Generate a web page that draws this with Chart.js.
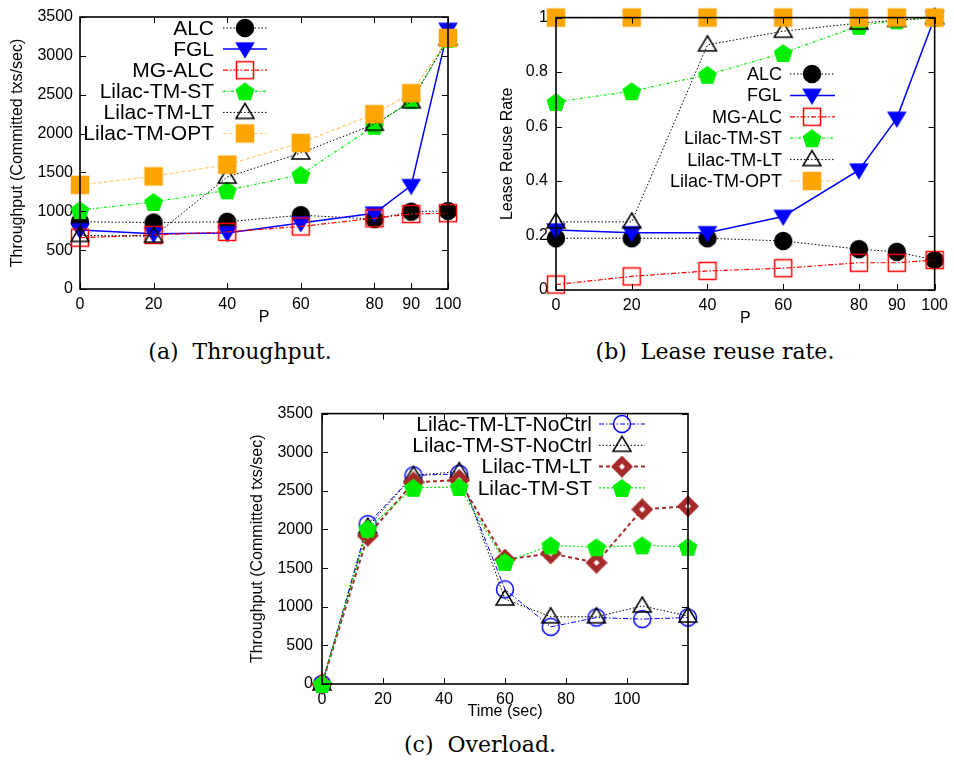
<!DOCTYPE html>
<html>
<head>
<meta charset="utf-8">
<script src="https://cdn.jsdelivr.net/npm/chart.js@4.4.0/dist/chart.umd.min.js"></script>
<style>
  body { margin: 0; background: #fff; width: 954px; height: 760px; position: relative; overflow: hidden; }
  canvas { position: absolute; }
  .cap { position: absolute; font-family: "DejaVu Serif", serif; font-size: 22px; line-height: 24px; color: #000; transform: translateX(-50%); white-space: pre; }
</style>
</head>
<body>
<canvas id="chartA" width="470" height="330" style="left:0;top:0"></canvas>
<canvas id="chartB" width="474" height="330" style="left:480px;top:0"></canvas>
<canvas id="chartC" width="470" height="330" style="left:240px;top:395px"></canvas>
<div class="cap" style="left:240px;top:340px">(a)  Throughput.</div>
<div class="cap" style="left:715px;top:340px">(b)  Lease reuse rate.</div>
<div class="cap" style="left:480px;top:733px">(c)  Overload.</div>
<script>
// x values and tick labels
const pValues = [0, 20, 40, 60, 80, 90, 100];
const pTicks = [0, 20, 40, 60, 80, 90, 100];
const timeValues = [0, 15, 30, 45, 60, 75, 90, 105, 120];
const timeTicks = [0, 20, 40, 60, 80, 100];

// (a) throughput, committed txs/sec
const tputALC = [865, 855, 865, 950, 900, 995, 1005];
const tputFGL = [760, 710, 720, 850, 975, 1330, 3340];
const tputMGALC = [660, 695, 735, 805, 910, 965, 975];
const tputST = [1015, 1120, 1270, 1470, 2100, 2430, 3220];
const tputLT = [690, 680, 1440, 1750, 2120, 2410, 3220];
const tputOPT = [1340, 1450, 1600, 1880, 2250, 2520, 3230];

// (b) lease reuse rate
const reuseALC = [0.19, 0.19, 0.19, 0.18, 0.15, 0.14, 0.11];
const reuseFGL = [0.22, 0.21, 0.21, 0.27, 0.44, 0.63, 1.0];
const reuseMGALC = [0.02, 0.05, 0.07, 0.08, 0.10, 0.10, 0.11];
const reuseST = [0.69, 0.73, 0.79, 0.87, 0.97, 0.99, 1.0];
const reuseLT = [0.25, 0.25, 0.90, 0.95, 0.98, 0.99, 1.0];
const reuseOPT = [1, 1, 1, 1, 1, 1, 1];

// (c) overload
const ovLTNoCtrl = [0, 2070, 2700, 2720, 1225, 740, 860, 840, 860];
const ovSTNoCtrl = [0, 2030, 2700, 2750, 1100, 870, 870, 1010, 880];
const ovLT = [0, 1920, 2610, 2640, 1610, 1690, 1570, 2260, 2300];
const ovST = [0, 2010, 2540, 2550, 1580, 1795, 1770, 1795, 1775];

const FONT = '"Liberation Sans", Arial, sans-serif';

// gnuplot-like point symbols drawn on small canvases
function marker(kind, color, filled) {
  const s = 22, m = s / 2;
  const c = document.createElement('canvas');
  c.width = c.height = s;
  const g = c.getContext('2d');
  g.strokeStyle = color;
  g.fillStyle = color;
  g.lineWidth = 1.5;
  g.beginPath();
  if (kind === 'circle') {
    g.arc(m, m, 8.5, 0, Math.PI * 2);
  } else if (kind === 'square') {
    g.rect(m - 8.5, m - 8.5, 17, 17);
  } else if (kind === 'tri') {
    g.moveTo(m, m - 9); g.lineTo(m + 9, m + 6); g.lineTo(m - 9, m + 6); g.closePath();
  } else if (kind === 'triDown') {
    g.moveTo(m, m + 8); g.lineTo(m + 8.5, m - 6); g.lineTo(m - 8.5, m - 6); g.closePath();
  } else if (kind === 'pent') {
    for (let i = 0; i < 5; i++) {
      const a = -Math.PI / 2 + i * 2 * Math.PI / 5;
      const px = m + 9 * Math.cos(a), py = m + 1 + 9 * Math.sin(a);
      i ? g.lineTo(px, py) : g.moveTo(px, py);
    }
    g.closePath();
  } else if (kind === 'diamond') {
    g.moveTo(m, m - 10); g.lineTo(m + 10, m); g.lineTo(m, m + 10); g.lineTo(m - 10, m); g.closePath();
  }
  if (filled) g.fill();
  g.stroke();
  if (kind === 'diamond') {
    g.fillStyle = '#fff';
    g.beginPath();
    g.moveTo(m, m - 3); g.lineTo(m + 3, m); g.lineTo(m, m + 3); g.lineTo(m - 3, m); g.closePath();
    g.fill();
  }
  return c;
}

function series(label, xs, ys, color, width, dash, sym, i, n) {
  return {
    label,
    data: xs.map((x, k) => ({ x, y: ys[k] })),
    borderColor: color,
    borderWidth: width,
    borderDash: dash,
    pointStyle: sym,
    pointRadius: 9,
    fill: false,
    tension: 0,
    clip: false,
    order: n - i
  };
}

// box with inward ticks on all four sides
const frame = {
  id: 'frame',
  afterDatasetsDraw(chart) {
    const { ctx, chartArea: a, scales: { x, y } } = chart;
    ctx.save();
    ctx.strokeStyle = '#000';
    ctx.lineWidth = 1;
    ctx.beginPath();
    x.ticks.forEach(t => {
      const px = Math.round(x.getPixelForValue(t.value)) + 0.5;
      ctx.moveTo(px, a.bottom); ctx.lineTo(px, a.bottom - 6);
      ctx.moveTo(px, a.top); ctx.lineTo(px, a.top + 6);
    });
    y.ticks.forEach(t => {
      const py = Math.round(y.getPixelForValue(t.value)) + 0.5;
      ctx.moveTo(a.left, py); ctx.lineTo(a.left + 6, py);
      ctx.moveTo(a.right, py); ctx.lineTo(a.right - 6, py);
    });
    ctx.stroke();
    ctx.lineWidth = 1.6;
    ctx.strokeRect(a.left, a.top, a.right - a.left, a.bottom - a.top);
    ctx.restore();
  }
};

// key: right aligned text, then line sample with symbol
const sideLegend = {
  id: 'sideLegend',
  afterDraw(chart, args, o) {
    const ctx = chart.ctx;
    ctx.save();
    ctx.font = o.size + 'px ' + FONT;
    ctx.textAlign = 'right';
    ctx.textBaseline = 'middle';
    ctx.fillStyle = '#000';
    chart.data.datasets.forEach((ds, i) => {
      const y = o.top + i * o.gap;
      ctx.fillText(ds.label, o.textRight, y + 1);
      ctx.save();
      ctx.strokeStyle = ds.borderColor;
      ctx.lineWidth = ds.borderWidth;
      ctx.setLineDash(ds.borderDash || []);
      ctx.beginPath();
      ctx.moveTo(o.lineFrom, y);
      ctx.lineTo(o.lineTo, y);
      ctx.stroke();
      ctx.restore();
      const img = ds.pointStyle;
      ctx.drawImage(img, o.markX - img.width / 2, y - img.height / 2);
    });
    ctx.restore();
  }
};

function makeChart(id, datasets, cfg) {
  const tickFont = { family: FONT, size: 16 };
  return new Chart(document.getElementById(id), {
    type: 'line',
    data: { datasets },
    options: {
      responsive: false,
      animation: false,
      events: [],
      layout: { padding: { left: 0, right: cfg.padRight, top: cfg.padTop, bottom: 0 } },
      plugins: { legend: { display: false }, tooltip: { enabled: false }, sideLegend: cfg.legend },
      scales: {
        x: {
          type: 'linear', min: cfg.xMin, max: cfg.xMax,
          afterBuildTicks: s => { s.ticks = cfg.xTicks.map(v => ({ value: v })); },
          afterFit: s => { s.height = cfg.xHeight; },
          grid: { display: false, drawTicks: false },
          border: { display: false },
          ticks: { font: tickFont, color: '#000', padding: 6, maxRotation: 0, autoSkip: false },
          title: { display: true, text: cfg.xTitle, font: tickFont, color: '#000', padding: { top: 0, bottom: cfg.xTitlePad } }
        },
        y: {
          min: cfg.yMin, max: cfg.yMax,
          ticks: { stepSize: cfg.yStep, font: tickFont, color: '#000', padding: cfg.yTickPad, callback: cfg.yFormat },
          afterFit: s => { s.width = cfg.yWidth; },
          grid: { display: false, drawTicks: false },
          border: { display: false },
          title: { display: true, text: cfg.yTitle, font: tickFont, color: '#000', padding: { top: cfg.yTitlePad, bottom: 0 } }
        }
      }
    },
    plugins: [frame, sideLegend]
  });
}

const BLACK = '#000000', BLUE = '#0000ff', RED = '#ff0000', GREEN = '#00ee00', ORANGE = '#ffa500', BROWN = '#a52a2a';
const dotted = [1.5, 2], dashDot = [5, 2, 1.5, 2], greenDash = [3, 2, 1, 2], optDash = [4, 2];

const symALC = marker('circle', BLACK, true);
const symFGL = marker('triDown', BLUE, true);
const symMG = marker('square', RED, false);
const symST = marker('pent', GREEN, true);
const symLT = marker('tri', BLACK, false);
const symOPT = marker('square', ORANGE, true);

makeChart('chartA', [
  series('ALC', pValues, tputALC, BLACK, 1, dotted, symALC, 0, 6),
  series('FGL', pValues, tputFGL, BLUE, 1.5, [], symFGL, 1, 6),
  series('MG-ALC', pValues, tputMGALC, RED, 1.2, dashDot, symMG, 2, 6),
  series('Lilac-TM-ST', pValues, tputST, GREEN, 1.2, greenDash, symST, 3, 6),
  series('Lilac-TM-LT', pValues, tputLT, BLACK, 1, dotted, symLT, 4, 6),
  series('Lilac-TM-OPT', pValues, tputOPT, 'rgba(255,165,0,0.55)', 1.2, optDash, symOPT, 5, 6)
], {
  xMin: 0, xMax: 100, xTicks: pTicks, xTitle: 'P', xHeight: 41, xTitlePad: 3,
  yMin: 0, yMax: 3500, yStep: 500, yWidth: 80, yTickPad: 7, yTitlePad: 8,
  yTitle: 'Throughput (Committed txs/sec)',
  padRight: 22, padTop: 17,
  legend: { size: 21, textRight: 214, lineFrom: 223, lineTo: 267, markX: 245, top: 28, gap: 21.1 }
});

makeChart('chartB', [
  series('ALC', pValues, reuseALC, BLACK, 1, dotted, symALC, 0, 6),
  series('FGL', pValues, reuseFGL, BLUE, 1.5, [], symFGL, 1, 6),
  series('MG-ALC', pValues, reuseMGALC, RED, 1.2, dashDot, symMG, 2, 6),
  series('Lilac-TM-ST', pValues, reuseST, GREEN, 1.2, greenDash, symST, 3, 6),
  series('Lilac-TM-LT', pValues, reuseLT, BLACK, 1, dotted, symLT, 4, 6),
  series('Lilac-TM-OPT', pValues, reuseOPT, 'rgba(255,165,0,0.55)', 1.2, optDash, symOPT, 5, 6)
], {
  xMin: 0, xMax: 100, xTicks: pTicks, xTitle: 'P', xHeight: 40, xTitlePad: 2,
  yMin: 0, yMax: 1, yStep: 0.2, yWidth: 76, yTickPad: 8, yTitlePad: 18,
  yFormat: v => String(+v.toFixed(1)),
  yTitle: 'Lease Reuse Rate',
  padRight: 16, padTop: 17,
  legend: { size: 18, textRight: 302, lineFrom: 310, lineTo: 355, markX: 332, top: 74, gap: 21.4 }
});

makeChart('chartC', [
  series('Lilac-TM-LT-NoCtrl', timeValues, ovLTNoCtrl, BLUE, 1, dashDot, marker('circle', BLUE, false), 0, 4),
  series('Lilac-TM-ST-NoCtrl', timeValues, ovSTNoCtrl, BLACK, 1, dotted, marker('tri', BLACK, false), 1, 4),
  series('Lilac-TM-LT', timeValues, ovLT, BROWN, 2, [4, 3], marker('diamond', BROWN, true), 2, 4),
  series('Lilac-TM-ST', timeValues, ovST, GREEN, 1.2, [2, 2], marker('pent', GREEN, true), 3, 4)
], {
  xMin: 0, xMax: 120, xTicks: timeTicks, xTitle: 'Time (sec)', xHeight: 41, xTitlePad: 4,
  yMin: 0, yMax: 3500, yStep: 500, yWidth: 82, yTickPad: 9, yTitlePad: 8,
  yTitle: 'Throughput (Committed txs/sec)',
  padRight: 22, padTop: 16,
  legend: { size: 21, textRight: 352, lineFrom: 359, lineTo: 405, markX: 382, top: 29, gap: 21.3 }
});
</script>
</body>
</html>
